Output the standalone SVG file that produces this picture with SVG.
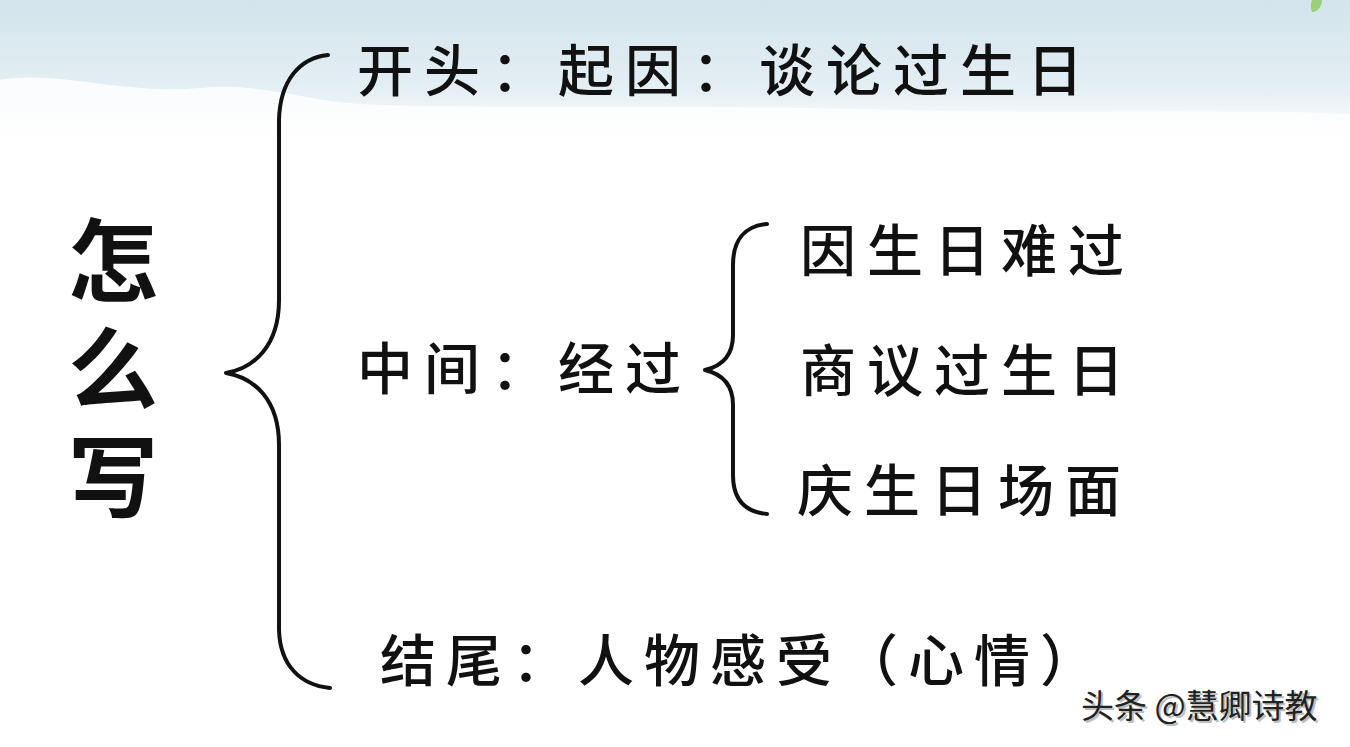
<svg xmlns="http://www.w3.org/2000/svg" width="1350" height="747" viewBox="0 0 1350 747">
<defs>
<linearGradient id="sky" x1="0" y1="0" x2="0" y2="1">
<stop offset="0" stop-color="#d3e4ec"/>
<stop offset="0.6" stop-color="#e2eef3"/>
<stop offset="1" stop-color="#f5f9fa"/>
</linearGradient>
<linearGradient id="fade" x1="0" y1="0" x2="0" y2="1">
<stop offset="0" stop-color="#ffffff" stop-opacity="0"/>
<stop offset="1" stop-color="#ffffff" stop-opacity="1"/>
</linearGradient>
<style>
.t{font-family:"Noto Sans CJK SC","Noto Sans",sans-serif;font-size:56px;font-weight:500;fill:#111;letter-spacing:11px}
.title{font-family:"Noto Sans CJK SC","Noto Sans",sans-serif;font-size:90px;font-weight:700;fill:#111;writing-mode:vertical-rl;letter-spacing:18px}
.brace{fill:none;stroke:#111;stroke-width:4;stroke-linecap:round;stroke-linejoin:round}
.wm{font-family:"Noto Sans CJK SC","Noto Sans",sans-serif;font-size:33px;font-weight:400}
</style>
</defs>
<rect width="1350" height="747" fill="#ffffff"/>
<rect width="1350" height="135" fill="url(#sky)"/>
<path d="M0 80 C60 70 120 95 200 88 C260 82 300 100 360 104 C500 110 700 104 900 110 C1050 114 1200 108 1350 114 L1350 135 L0 135 Z" fill="#fbfcfd"/>
<rect y="100" width="1350" height="40" fill="url(#fade)"/>
<path d="M1312 0 L1322 0 C1322 6 1318 12 1312 12 C1310 6 1311 3 1312 0 Z" fill="#9ccf7a"/>

<g id="title">
<text class="title" x="113" y="215">怎么写</text>
</g>

<g id="connectors">
<path class="brace" d="M328 55 C300 58 280 80 279 120 L279 300 C279 345 255 368 226 373 C255 378 279 400 279 445 L279 630 C280 665 300 685 330 688"/>
<path class="brace" d="M767 224 C745 226 733 240 733 265 L733 335 C733 355 722 366 705 370 C722 374 733 385 733 405 L733 475 C733 500 745 512 767 514"/>
</g>

<g id="start"><text class="t" x="357" y="91">开头：起因：谈论过生日</text></g>
<g id="middle"><text class="t" x="357" y="389">中间：经过</text></g>
<g id="m1"><text class="t" x="800" y="271">因生日难过</text></g>
<g id="m2"><text class="t" x="800" y="391">商议过生日</text></g>
<g id="m3"><text class="t" x="797" y="511">庆生日场面</text></g>
<g id="end"><text class="t" x="380" y="681" style="letter-spacing:10px">结尾：人物感受（心情）</text></g>

<g id="watermark">
<text class="wm" x="1083" y="720" fill="#bdbdbd">头条 @慧卿诗教</text>
<text class="wm" x="1081" y="718" fill="#222">头条 @慧卿诗教</text>
</g>
</svg>
